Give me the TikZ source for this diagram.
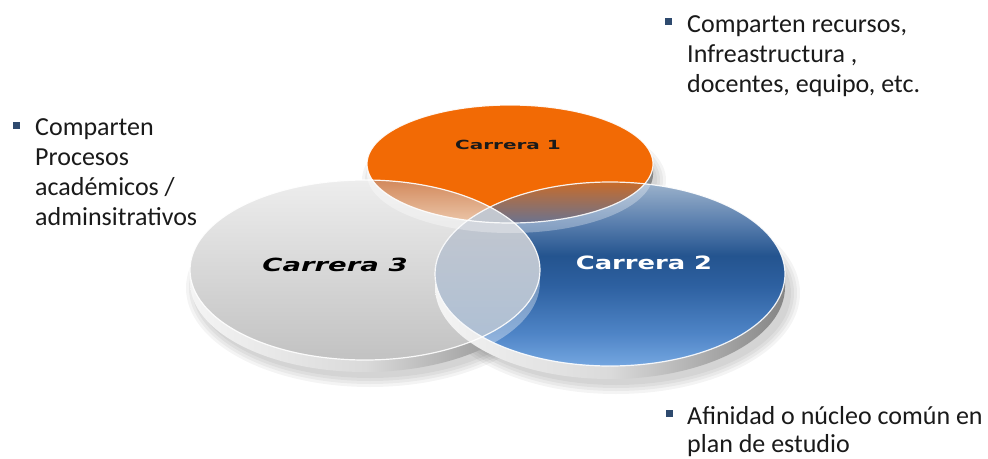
\documentclass[tikz,border=0pt]{standalone}
\usepackage{fontspec}
\setmainfont{Carlito}
\newfontfamily\labelfont{DejaVu Sans}
\definecolor{txtcol}{HTML}{1A1A1A}
\definecolor{bulcol}{HTML}{2E4A6E}
\definecolor{orangeface}{HTML}{F26A05}
\definecolor{rimlight}{HTML}{F4F4F4}
\definecolor{rimmid}{HTML}{DADADA}
\definecolor{rimdark}{HTML}{858585}
\definecolor{blueA}{HTML}{9DB3CC}
\definecolor{blueB}{HTML}{5A7FAE}
\definecolor{blueC}{HTML}{24548F}
\definecolor{blueD}{HTML}{2D60A0}
\definecolor{blueE}{HTML}{4E84C6}
\definecolor{blueF}{HTML}{74A6E0}
\pgfdeclareverticalshading{bluefaceshade}{100bp}{%
  color(0bp)=(blueF); color(25bp)=(blueF); color(34bp)=(blueE);
  color(47bp)=(blueD); color(55bp)=(blueC); color(64bp)=(blueB);
  color(75bp)=(blueA); color(100bp)=(blueA)}
\begin{document}
\begin{tikzpicture}[x=1pt,y=-1pt,
  faceA/.style={insert path={(510,164) ellipse (143pt and 59pt)}},
  rimA/.style={insert path={(510,174) ellipse (143pt and 59pt)}},
  sideA/.style={insert path={(367,164) rectangle (653,174)}},
  faceC/.style={insert path={(365,270) ellipse (175pt and 90pt)}},
  rimC/.style={insert path={(365,282) ellipse (175pt and 90pt)}},
  sideC/.style={insert path={(190,270) rectangle (540,282)}},
  faceB/.style={insert path={(610,274) ellipse (175pt and 92pt)}},
  rimB/.style={insert path={(610,287) ellipse (175pt and 92pt)}},
  sideB/.style={insert path={(435,274) rectangle (785,287)}},
  rimshade/.style={left color=rimlight, right color=rimdark, middle color=rimmid},
  faceedge/.style={draw=white, line width=1.2pt, opacity=0.9},
  bullettext/.style={anchor=base west, inner sep=0pt, align=left, text=txtcol,
    font=\fontsize{26}{30}\selectfont},
  bulletmark/.style={fill=bulcol, minimum size=7pt, inner sep=0pt},
  disklabel/.style={anchor=base, inner sep=0pt},
]
\useasboundingbox[fill=white] (0,0) rectangle (988,458);

% soft shadows
\foreach \k in {0,3,6,9}{
  \fill[black, opacity=0.045] (514,180) ellipse [x radius={(143+\k)*1pt}, y radius={(59+\k)*1pt}];
  \fill[black, opacity=0.045] (370,288) ellipse [x radius={(175+\k)*1pt}, y radius={(90+\k)*1pt}];
  \fill[black, opacity=0.045] (616,293) ellipse [x radius={(175+\k)*1pt}, y radius={(92+\k)*1pt}];
}

% disk 1 (orange)
\shade[rimshade, rimA];
\shade[rimshade, sideA];
\fill[orangeface, faceA];

% disk 3 (grey)
\shade[rimshade, rimC];
\shade[rimshade, sideC];
\shade[top color=black!7, middle color=black!16, bottom color=black!24, faceC];

% disk 2 (blue)
\shade[rimshade, rimB];
\shade[rimshade, sideB];
\shade[shading=bluefaceshade, faceB];

% overlap 1 and 3
\begin{scope}
  \clip[faceC];
  \fill[white, opacity=0.35, even odd rule, rimA, faceA];
  \clip[faceA];
  \shade[top color={rgb,255:red,208;green,131;blue,84}, bottom color={rgb,255:red,236;green,200;blue,172}]
    (300,176) rectangle (560,224);
\end{scope}
% overlap 1 and 2
\begin{scope}
  \clip[faceB];
  \fill[white, opacity=0.3, even odd rule, rimA, faceA];
  \fill[white, opacity=0.35, even odd rule, rimC, faceC];
  \clip[faceA];
  \shade[top color={rgb,255:red,204;green,107;blue,37}, middle color={rgb,255:red,168;green,111;blue,80},
    bottom color={rgb,255:red,104;green,115;blue,146}]
    (430,180) rectangle (660,224);
\end{scope}
% overlap 2 and 3
\begin{scope}
  \clip[faceB];
  \clip[faceC];
  \shade[top color={rgb,255:red,200;green,201;blue,206}, middle color={rgb,255:red,210;green,218;blue,228},
    bottom color={rgb,255:red,170;green,190;blue,213}]
    (430,180) rectangle (545,365);
  \fill[white, opacity=0.3, even odd rule, rimA, faceA];
\end{scope}

% face edges
\draw[faceedge, faceA];
\draw[faceedge, faceC];
\draw[faceedge, faceB];

% disk labels
\node[disklabel, text=txtcol] (lab1) at (508,149)
  {\scalebox{1}[0.63]{\labelfont\bfseries\fontsize{20}{24}\selectfont Carrera 1}};
\node[disklabel, text=black] (lab3) at (335,271)
  {\scalebox{1}[0.66]{\labelfont\bfseries\itshape\fontsize{27.5}{32}\selectfont Carrera 3}};
\node[disklabel, text=white] (lab2) at (644,269)
  {\scalebox{1}[0.71]{\labelfont\bfseries\fontsize{25.8}{30}\selectfont Carrera 2}};

% bullet texts (base anchor = baseline of the last line)
\node[bulletmark] (bm1) at (668,21) {};
\node[bullettext] (tx1) at (687,92) {Comparten recursos,\\Infreastructura ,\\docentes, equipo, etc.};
\node[bulletmark] (bm2) at (16,125) {};
\node[bullettext] (tx2) at (35,225) {Comparten\\Procesos\\académicos /\\adminsitrativos};
\node[bulletmark] (bm3) at (669,413) {};
\node[bullettext, font=\fontsize{26}{28}\selectfont] (tx3) at (687,452) {Afinidad o núcleo común en\\plan de estudio};
\end{tikzpicture}
\end{document}
